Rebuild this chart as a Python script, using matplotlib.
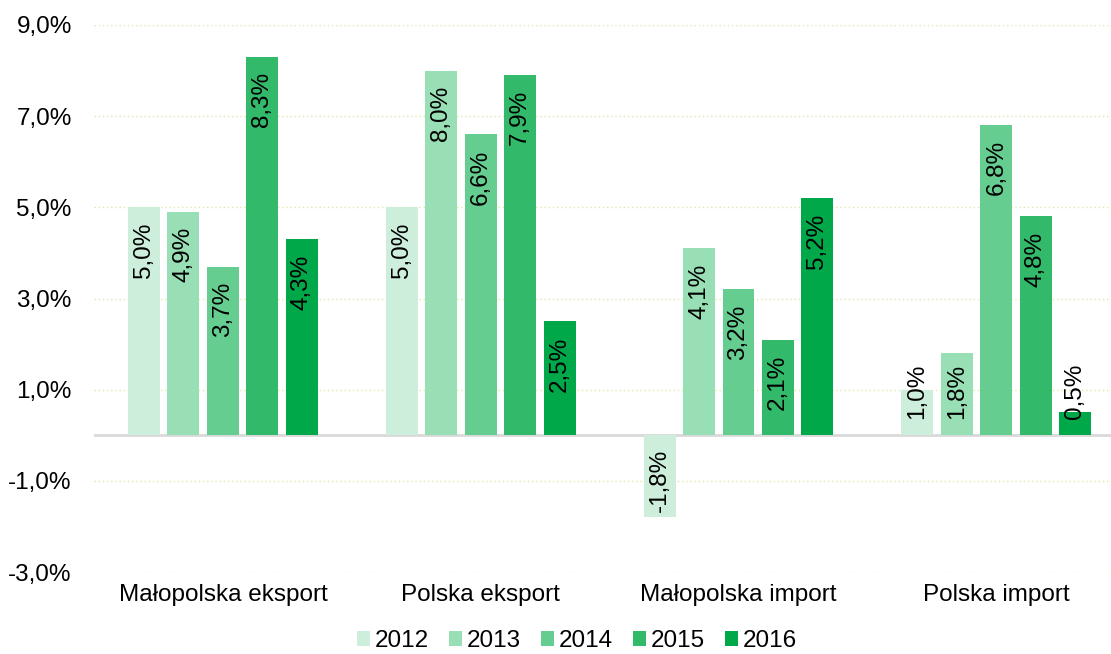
import matplotlib
matplotlib.use("Agg")
import matplotlib.pyplot as plt
import numpy as np

plt.rcParams['font.family'] = ['Liberation Sans', 'DejaVu Sans']

categories = ['Małopolska eksport', 'Polska eksport', 'Małopolska import', 'Polska import']
years = ['2012', '2013', '2014', '2015', '2016']
v2012 = [5.0, 5.0, -1.8, 1.0]
v2013 = [4.9, 8.0, 4.1, 1.8]
v2014 = [3.7, 6.6, 3.2, 6.8]
v2015 = [8.3, 7.9, 2.1, 4.8]
v2016 = [4.3, 2.5, 5.2, 0.5]
yticks = [-3, -1, 1, 3, 5, 7, 9]

series = [v2012, v2013, v2014, v2015, v2016]
colors = ['#cdeedb', '#99dfb5', '#66cd90', '#33b96a', '#00a84a']
fs = 17.5

fig = plt.figure(figsize=(11.11, 6.54), dpi=100)
ax = fig.add_axes([94/1111, 1-572/654, (1111-94)/1111, (572-25)/654])

x = np.arange(len(categories))
width = 0.124
pitch = 0.153
for i, (vals, col, yr) in enumerate(zip(series, colors, years)):
    pos = x + (i - 2) * pitch
    ax.bar(pos, vals, width=width, color=col, label=yr, zorder=3)
    for p, v in zip(pos, vals):
        txt = ('%.1f%%' % v).replace('.', ',')
        if v >= 0:
            ytop = max(v - 0.33, 1.57)
            ax.text(p, ytop, txt, rotation=90, ha='center', va='top',
                    fontsize=fs, color='black', zorder=4)
        else:
            ax.text(p, v + 0.11, txt, rotation=90, ha='center', va='bottom',
                    fontsize=fs, color='black', zorder=4)

ax.set_ylim(-3, 9)
ax.set_xlim(-0.5, 3.445)
ax.set_yticks(yticks)
ax.set_yticklabels([('%.1f%%' % t).replace('.', ',') for t in yticks], fontsize=fs)
ax.set_xticks(x)
ax.set_xticklabels(categories, fontsize=fs)
ax.tick_params(axis='y', length=0, pad=16)
ax.tick_params(axis='x', length=0, pad=9)
for s in ax.spines.values():
    s.set_visible(False)
ax.grid(axis='y', color='#dfe8a8', linestyle=(0, (1, 2)), linewidth=1, zorder=0)
ax.axhline(0, color='#d9d9d9', linewidth=2, zorder=2)

fig.legend(loc='center', bbox_to_anchor=(577/1111, 1-641/654), ncol=5, frameon=False,
           fontsize=fs, handlelength=0.53, handleheight=0.53, handletextpad=0.2,
           columnspacing=0.82)

fig.savefig('out.png', dpi=100)
